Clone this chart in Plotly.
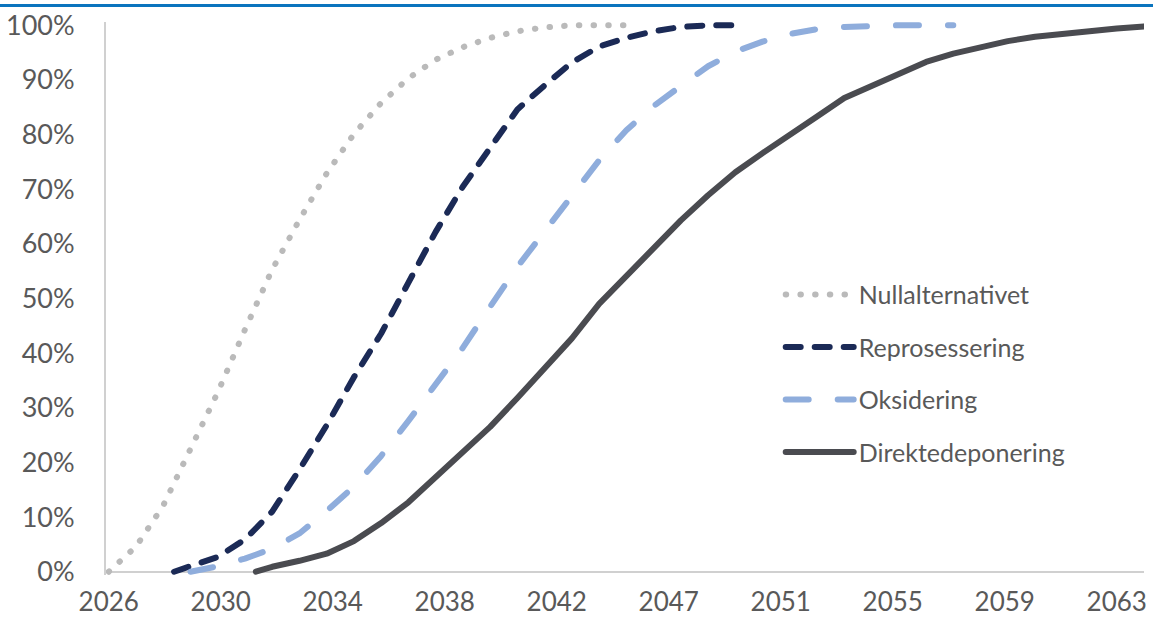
import numpy as np
import plotly.graph_objects as go

# Share of material handled (cumulative, %) per scenario over time
null_years = [2026, 2027, 2028, 2029, 2030, 2031, 2032, 2033, 2034, 2035, 2036,
              2037, 2038, 2039, 2040, 2041, 2042, 2043, 2044, 2045]
null_vals = [0, 4.6, 12.1, 22.2, 32.8, 44.3, 55.3, 64.4, 72.9, 80.1, 85.8,
             90.3, 93.7, 96.0, 97.7, 98.9, 99.6, 100, 100, 100]

repro_years = [2028.4] + list(range(2029, 2050))
repro_vals = [0, 1.0, 2.7, 5.9, 11.0, 18.7, 26.8, 35.6, 43.6, 52.9, 62.2, 70.5,
              77.7, 84.6, 89.0, 93.2, 96.1, 97.7, 98.9, 99.7, 100, 100]

oks_years = list(range(2029, 2058))
oks_vals = [0, 1.0, 2.4, 4.2, 7.0, 11.1, 15.6, 21.2, 27.6, 34.2, 41.0, 48.5,
            55.8, 62.3, 68.9, 75.3, 80.8, 85.2, 88.9, 92.5, 95.2, 97.0, 98.4,
            99.3, 99.7, 99.9, 100, 100, 100]

dir_years = [2031.4] + list(range(2032, 2065))
dir_vals = [0, 0.9, 2.0, 3.3, 5.6, 8.9, 12.7, 17.3, 21.8, 26.5, 31.8, 37.4,
            42.7, 49.0, 54.0, 59.2, 64.3, 68.9, 73.1, 76.6, 79.8, 83.3, 86.7,
            88.9, 91.2, 93.3, 94.8, 96.0, 97.1, 97.9, 98.5, 98.9, 99.4, 99.8]

x_tick_labels = ["2026", "2030", "2034", "2038", "2042",
                 "2047", "2051", "2055", "2059", "2063"]
y_ticks = list(range(0, 101, 10))

series = [
    ("Nullalternativet", null_years, null_vals, "#BABABA", "0.5px,14.2px"),
    ("Reprosessering", repro_years, repro_vals, "#1B2A56", "15px,14px"),
    ("Oksidering", oks_years, oks_vals, "#8FADDC", "23px,29px"),
    ("Direktedeponering", dir_years, dir_vals, "#4A4B50", "solid"),
]

FONT = "Lato, 'Open Sans', sans-serif"
TEXT = "#595959"

fig = go.Figure()
for i, (name, xs, ys, color, dash) in enumerate(series):
    fig.add_trace(go.Scatter(
        x=xs, y=ys, name=name, mode="lines",
        legendgroup=f"g{i}",
        line=dict(color=color, width=6, dash=dash),
        hoverinfo="skip",
    ))

# label positions: evenly spread from first to last labelled year
first_lab, last_lab = int(x_tick_labels[0]), int(x_tick_labels[-1])
x_tick_pos = np.linspace(first_lab, last_lab, len(x_tick_labels))

fig.update_layout(
    width=1153, height=619, autosize=False,
    paper_bgcolor="white", plot_bgcolor="white",
    margin=dict(l=106, r=9, t=22, b=44),
    font=dict(family=FONT, color=TEXT, size=25),
    showlegend=True,
    legend=dict(
        x=0.65, y=0.365, xanchor="left", yanchor="middle",
        bgcolor="rgba(0,0,0,0)", traceorder="grouped", tracegroupgap=17,
        font=dict(family=FONT, size=25, color=TEXT),
        itemwidth=68,
    ),
    xaxis=dict(
        range=[2025.9, 2064], tickmode="array",
        tickvals=x_tick_pos, ticktext=x_tick_labels,
        showgrid=False, zeroline=False, showline=False,
        ticks="", tickfont=dict(size=26, color=TEXT, family=FONT),
        ticklabelstandoff=9, automargin=False,
    ),
    yaxis=dict(
        range=[-0.6, 100.6], tickmode="array", tickvals=y_ticks,
        ticktext=[f"{v}%" for v in y_ticks],
        showgrid=False, zeroline=True, zerolinecolor="#D0D0D0", zerolinewidth=2,
        showline=True, linecolor="#D0D0D0", linewidth=2,
        ticks="", tickfont=dict(size=27, color=TEXT, family=FONT),
        ticklabelstandoff=24, automargin=False,
    ),
    shapes=[dict(
        type="line", xref="paper", yref="paper",
        x0=-0.11, x1=1.02, y0=1.03, y1=1.03,
        line=dict(color="#0A74BE", width=3),
    )],
)

round_caps = (
    "var s=document.createElement('style');"
    "s.textContent='.js-line{stroke-linecap:round;stroke-linejoin:round}';"
    "document.head.appendChild(s);"
)
fig.write_html("out.html", post_script=round_caps,
               config={"displayModeBar": False})
